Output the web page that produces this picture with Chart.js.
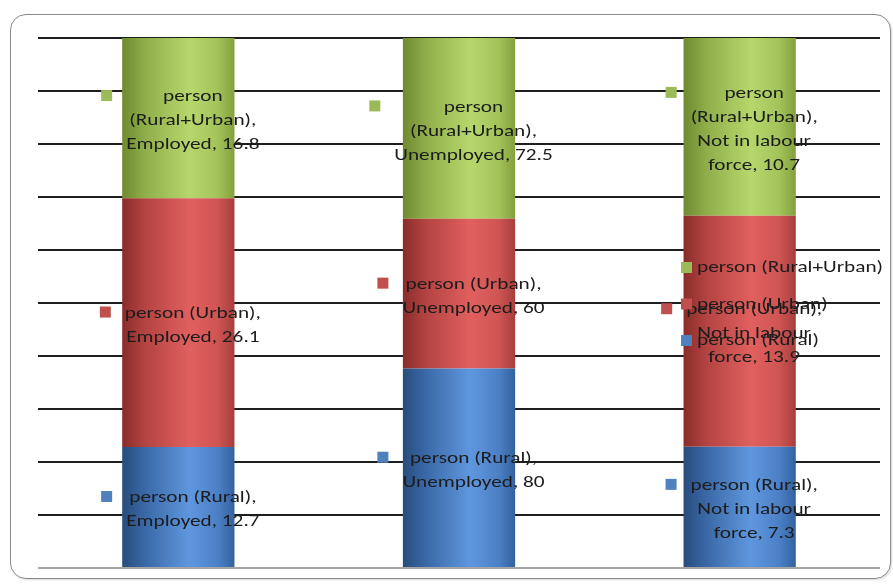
<!DOCTYPE html>
<html>
<head>
<meta charset="utf-8">
<script src="https://cdn.jsdelivr.net/npm/chart.js@4.4.1/dist/chart.umd.min.js"></script>
<style>
  html, body { margin: 0; padding: 0; background: #ffffff; }
  #wrap { position: relative; width: 893px; height: 586px; overflow: hidden; }
  #frame {
    position: absolute; left: 10px; top: 14px; width: 881px; height: 565px;
    border: 1.5px solid #8a8a8a; border-radius: 16px; box-sizing: border-box;
    box-shadow: 1px 1px 2px rgba(0,0,0,0.15);
  }
  #c { position: absolute; left: 0; top: 0; }
</style>
</head>
<body>
<div id="wrap">
  <div id="frame"></div>
  <canvas id="c" width="893" height="586"></canvas>
</div>
<script>
// Labour force status by area
const categories = ['Employed', 'Unemployed', 'Not in labour force'];
const seriesNames = ['person (Rural)', 'person (Urban)', 'person (Rural+Urban)'];
const rural = [12.7, 80, 7.3];
const urban = [26.1, 60, 13.9];
const ruralUrban = [16.8, 72.5, 10.7];

// How the label texts break onto lines
const seriesLines = [['person (Rural)'], ['person (Urban)'], ['person', '(Rural+Urban)']];
const categoryLines = [['Employed'], ['Unemployed'], ['Not in labour', 'force']];

const seriesValues = [rural, urban, ruralUrban];
const flatColors = ['#4f81bd', '#c0504d', '#9bbb59'];
const shadeStops = [
  ['#284c7c', '#3a68a6', '#5f97de', '#4c80c6', '#33629e'],
  ['#8a2c2a', '#b34341', '#e0605e', '#cf5553', '#a73f3d'],
  ['#6f8a30', '#8fae4a', '#b6d76c', '#a3c45a', '#84a03e']
];
const FONT = '17px Carlito, Lato, "Liberation Sans", sans-serif';
const TEXT_WIDE = 1.25;   // wide-set lettering
const TEXT_COLOR = '#1c1c1c';

// Each column is shown as shares of its own total
const totals = categories.map((_, i) => seriesValues.reduce((a, s) => a + s[i], 0));
const shares = seriesValues.map(s => s.map((v, i) => v / totals[i] * 100));

function barShade(ctx, s) {
  const chart = ctx.chart;
  const area = chart.chartArea;
  if (!area || ctx.type !== 'data') return flatColors[s];
  const x = chart.scales.x.getPixelForValue(ctx.dataIndex);
  const w = (area.right - area.left) / categories.length * 0.4;
  const g = chart.ctx.createLinearGradient(x - w / 2, 0, x + w / 2, 0);
  const st = shadeStops[s];
  g.addColorStop(0, st[0]);
  g.addColorStop(0.2, st[1]);
  g.addColorStop(0.6, st[2]);
  g.addColorStop(0.85, st[3]);
  g.addColorStop(1, st[4]);
  return g;
}

function labelLines(s, i) {
  const a = seriesLines[s].slice();
  a[a.length - 1] += ',';
  const b = categoryLines[i].slice();
  b[b.length - 1] += ', ' + seriesValues[s][i];
  return a.concat(b);
}

function textWidth(ctx, t) { return ctx.measureText(t).width * TEXT_WIDE; }
function wideText(ctx, t, x, y) {
  ctx.save();
  ctx.translate(x, y);
  ctx.scale(TEXT_WIDE, 1);
  ctx.fillText(t, 0, 0);
  ctx.restore();
}

const dataLabels = {
  id: 'dataLabels',
  afterDatasetsDraw(chart) {
    const ctx = chart.ctx;
    ctx.save();
    ctx.font = FONT;
    const lh = 24, key = 11, gap = 14;
    chart.data.datasets.forEach((ds, s) => {
      chart.getDatasetMeta(s).data.forEach((bar, i) => {
        const lines = labelLines(s, i);
        const tw = Math.max(...lines.map(l => textWidth(ctx, l)));
        const blockW = key + gap + tw;
        const left = bar.x - blockW / 2 + 2;
        const cy = (bar.y + bar.base) / 2 + 2;
        const top = cy - lines.length * lh / 2;
        ctx.fillStyle = flatColors[s];
        ctx.fillRect(left, top + lh / 2 - 6, key, key);
        ctx.fillStyle = TEXT_COLOR;
        ctx.textAlign = 'center';
        ctx.textBaseline = 'middle';
        const tx = left + key + gap + tw / 2;
        lines.forEach((l, k) => wideText(ctx, l, tx, top + lh / 2 + k * lh + 1));
      });
    });
    ctx.restore();
  }
};

const sideLegend = {
  id: 'sideLegend',
  afterDraw(chart) {
    const ctx = chart.ctx;
    ctx.save();
    ctx.font = FONT;
    ctx.textAlign = 'left';
    ctx.textBaseline = 'middle';
    const x0 = 681, y0 = 267, step = 36.5;
    const order = [2, 1, 0];
    order.forEach((s, k) => {
      const y = y0 + k * step;
      ctx.fillStyle = flatColors[s];
      ctx.fillRect(x0, y - 5, 11, 11);
      ctx.fillStyle = TEXT_COLOR;
      wideText(ctx, chart.data.datasets[s].label, x0 + 16, y + 1);
    });
    ctx.restore();
  }
};

new Chart(document.getElementById('c'), {
  type: 'bar',
  data: {
    labels: categories,
    datasets: seriesNames.map((name, s) => ({
      label: name,
      data: shares[s],
      backgroundColor: ctx => barShade(ctx, s),
      borderWidth: 0,
      barPercentage: 0.4,
      categoryPercentage: 1
    }))
  },
  options: {
    responsive: false,
    animation: false,
    layout: { padding: { left: 38, top: 38, right: 13, bottom: 18 } },
    plugins: { legend: { display: false }, tooltip: { enabled: false } },
    scales: {
      x: { stacked: true, display: false },
      y: {
        stacked: true, min: 0, max: 100,
        ticks: { display: false, stepSize: 10 },
        border: { display: false },
        grid: {
          drawTicks: false,
          lineWidth: 2,
          color: c => (c.tick && c.tick.value === 0) ? '#a6a6a6' : '#1e1e1e'
        }
      }
    }
  },
  plugins: [dataLabels, sideLegend]
});
</script>
</body>
</html>
